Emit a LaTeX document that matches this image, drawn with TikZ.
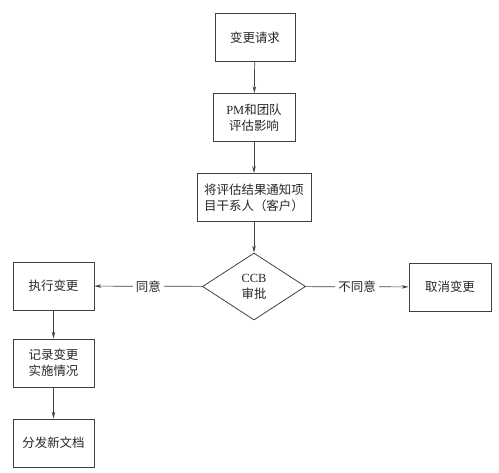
\documentclass[tikz,border=0pt]{standalone}
\usepackage{fontspec}
\setmainfont{Liberation Serif}
\newfontfamily\cjk{Noto Sans CJK SC}
\usetikzlibrary{arrows.meta,shapes.geometric}
\tikzset{
step_box/.style={
	% The shape:
	rectangle,
	% The border:
	draw=black!75,
	line width=0.8bp,
	% The size:
	minimum width=81bp,
	minimum height=48bp,
	inner sep=2bp,
	% Font
	align=center,
	text=black!85,
	font=\cjk\fontsize{12.5}{16}\selectfont
},
ccb_box/.style={
	step_box,
	diamond,
	minimum width=103bp,
	minimum height=67bp,
	inner sep=0pt
},
flow/.style={
	draw=black!75,
	line width=0.7bp,
	-{Stealth[length=7bp,width=3.5bp]}
},
choice/.style={
	fill=white,
	inner sep=3bp,
	text=black!85,
	font=\cjk\fontsize{12.5}{16}\selectfont
}
}
\begin{document}
\begin{tikzpicture}[x=1bp, y=-1bp]
	\useasboundingbox (0,0) rectangle (499,473);

	% main column
	\node[step_box, minimum width=80bp] (request) at (255,37.5) {变更请求};
	\node[step_box, minimum width=82bp] (assess) at (254,117.5) {\textrm{PM}和团队\\评估影响};
	\node[step_box, minimum width=114bp] (notify) at (254,197.5) {将评估结果通知项\\目干系人（客户）};
	\node[ccb_box] (ccb) at (254,286.5) {\textrm{CCB}\\审批};

	% the two outcomes
	\node[step_box] (execute) at (53.5,286) {执行变更};
	\node[step_box, minimum width=82bp] (cancel) at (450,287) {取消变更};

	% left column
	\node[step_box] (record) at (53.5,363) {记录变更\\实施情况};
	\node[step_box] (publish) at (53.5,443) {分发新文档};

	\draw[flow] (request) -- (assess);
	\draw[flow] (assess) -- (notify);
	\draw[flow] (notify) -- (ccb);
	\draw[flow] (ccb) -- node[choice] {同意} (execute);
	\draw[flow] (ccb) -- node[choice] {不同意} (cancel);
	\draw[flow] (execute) -- (record);
	\draw[flow] (record) -- (publish);
\end{tikzpicture}
\end{document}
